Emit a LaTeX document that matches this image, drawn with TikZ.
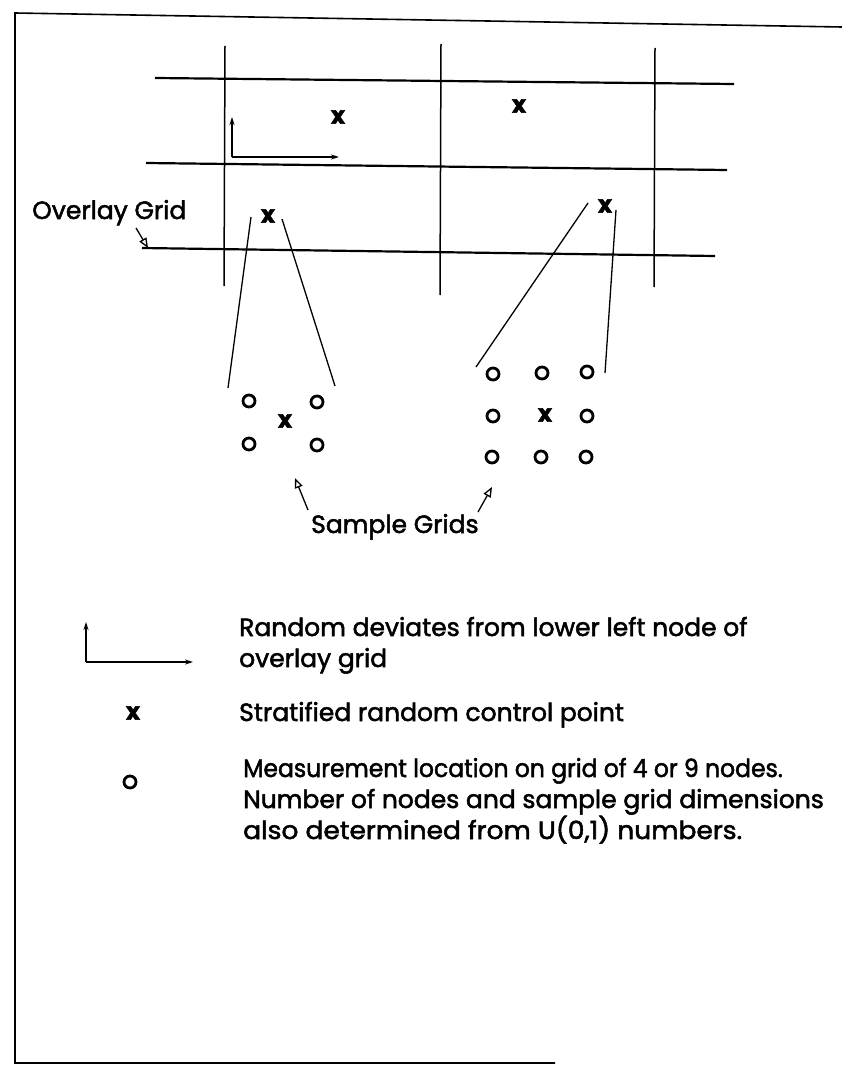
\documentclass[tikz,border=0pt]{standalone}
\usepackage{fontspec}
\setmainfont{Poppins}[FakeBold=2]
\usetikzlibrary{arrows.meta}
\begin{document}
\begin{tikzpicture}[x=1pt,y=-1pt,
  frameline/.style={line width=1.6pt},
  hline/.style={line width=2.2pt},
  vline/.style={line width=1.5pt},
  fan/.style={line width=1.3pt},
  xpt/.style={inner sep=0pt, font=\fontsize{24}{24}\selectfont\bfseries},
  circ/.style={circle, draw, line width=2.8pt, minimum size=12pt, inner sep=0pt},
  lbl/.style={anchor=base west, inner sep=0pt, font=\fontsize{25}{25}\selectfont},
  leg/.style={anchor=base west, inner sep=0pt, font=\fontsize{25}{25}\selectfont},
  smallarrow/.style={line width=1.5pt, -{Stealth[length=8pt,width=5pt]}},
  openarrow/.style={line width=1.3pt, -{Triangle[open,length=10pt,width=8pt]}}
]
\useasboundingbox (0,0) rectangle (842,1078);
% frame
\coordinate (f1) at (15,13);
\coordinate (f2) at (842,27);
\coordinate (f3) at (15,1063);
\coordinate (f4) at (555,1063);
\draw[frameline] (f2) -- (f1) -- (f3) -- (f4);
% overlay grid
\coordinate (v1a) at (225,46); \coordinate (v1b) at (224,286);
\coordinate (v2a) at (441,44); \coordinate (v2b) at (440,295);
\coordinate (v3a) at (655,48); \coordinate (v3b) at (654,287);
\draw[vline] (v1a) -- (v1b);
\draw[vline] (v2a) -- (v2b);
\draw[vline] (v3a) -- (v3b);
\coordinate (h1a) at (155,78); \coordinate (h1b) at (734,84);
\coordinate (h2a) at (146,163); \coordinate (h2b) at (727,170);
\coordinate (h3a) at (142,248); \coordinate (h3b) at (715,256);
\draw[hline] (h1a) -- (h1b);
\draw[hline] (h2a) -- (h2b);
\draw[hline] (h3a) -- (h3b);
% deviate arrows
\coordinate (o1) at (232,157);
\coordinate (o1up) at (232,117);
\coordinate (o1rt) at (339,157);
\draw[smallarrow] (o1) -- (o1up);
\draw[smallarrow] (o1) -- (o1rt);
% control points in grid
\node[xpt] (xa) at (338,117) {x};
\node[xpt] (xb) at (519,106) {x};
\node[xpt] (xc) at (268,216) {x};
\node[xpt] (xd) at (605,206) {x};
% overlay grid label
\node[lbl] (ogl) at (32,219) {Overlay Grid};
\coordinate (ogs) at (136,228);
\coordinate (ogt) at (148,248);
\draw[openarrow] (ogs) -- (ogt);
% left sample grid
\node[circ] (c1) at (249,401) {};
\node[circ] (c2) at (317,402) {};
\node[circ] (c3) at (249,444) {};
\node[circ] (c4) at (317,445) {};
\node[xpt] (xl) at (285,421) {x};
\coordinate (la1) at (251,217); \coordinate (la2) at (228,388);
\coordinate (lb1) at (282,219); \coordinate (lb2) at (335,386);
\draw[fan] (la1) -- (la2);
\draw[fan] (lb1) -- (lb2);
% right sample grid
\node[circ] (r1) at (493,374) {};
\node[circ] (r2) at (542,373) {};
\node[circ] (r3) at (587,372) {};
\node[circ] (r4) at (493,416) {};
\node[circ] (r6) at (587,416) {};
\node[circ] (r7) at (492,457) {};
\node[circ] (r8) at (541,457) {};
\node[circ] (r9) at (586,457) {};
\node[xpt] (xr) at (545,415) {x};
\coordinate (ra1) at (588,203); \coordinate (ra2) at (476,367);
\coordinate (rb1) at (616,210); \coordinate (rb2) at (605,373);
\draw[fan] (ra1) -- (ra2);
\draw[fan] (rb1) -- (rb2);
% sample grids label
\node[lbl] (sgl) at (311,533) {Sample Grids};
\coordinate (sga1) at (308,510); \coordinate (sgt1) at (295,478);
\coordinate (sga2) at (478,512); \coordinate (sgt2) at (492,487);
\draw[openarrow] (sga1) -- (sgt1);
\draw[openarrow] (sga2) -- (sgt2);
% legend
\coordinate (lo) at (86,662);
\coordinate (lup) at (86,622);
\coordinate (lrt) at (193,662);
\draw[smallarrow] (lo) -- (lup);
\draw[smallarrow] (lo) -- (lrt);
\node[leg] (t1) at (239,636) {Random deviates from lower left node of};
\node[leg] (t2) at (239,667) {overlay grid};
\node[xpt] (lx) at (133,713) {x};
\node[leg] (t3) at (239,721) {Stratified random control point};
\node[circ] (lc) at (130,782) {};
\node[leg] (t4) at (243,777) {\scalebox{0.94}[1]{Measurement location on grid of 4 or 9 nodes.}};
\node[leg] (t5) at (243,808) {Number of nodes and sample grid dimensions};
\node[leg] (t6) at (243,839) {\scalebox{1.06}[1]{also determined from U(0,1) numbers.}};
\end{tikzpicture}
\end{document}
